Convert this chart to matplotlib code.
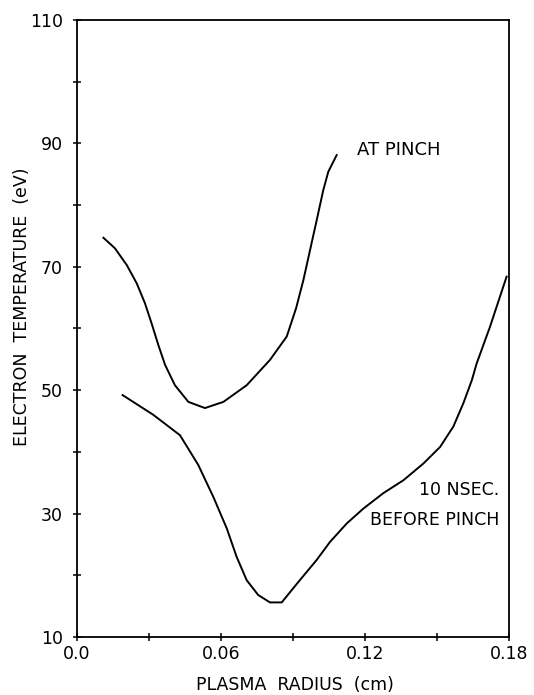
import matplotlib
matplotlib.use("Agg")
import matplotlib.pyplot as plt

# AT PINCH curve (radius in cm, temperature in eV)
pinch_r = [0.011, 0.0158, 0.0207, 0.0249, 0.0283, 0.0311, 0.0339, 0.0367, 0.0408,
           0.0464, 0.0533, 0.061, 0.0707, 0.0804, 0.0874, 0.0913, 0.0943, 0.0971,
           0.0999, 0.1026, 0.1047, 0.1082]
pinch_t = [74.7, 73.0, 70.3, 67.3, 64.1, 60.8, 57.3, 54.1, 50.8,
           48.1, 47.1, 48.1, 50.8, 54.9, 58.7, 63.3, 67.8, 72.7,
           77.6, 82.4, 85.4, 88.1]

# 10 NSEC. BEFORE PINCH curve
before_r = [0.019, 0.0318, 0.0429, 0.0505, 0.0568, 0.0624, 0.0665, 0.0707, 0.0755,
            0.0804, 0.0853, 0.0922, 0.0999, 0.1054, 0.1124, 0.1193, 0.1276, 0.136,
            0.1443, 0.1513, 0.1568, 0.161, 0.1645, 0.1665, 0.1721, 0.179]
before_t = [49.2, 46.0, 42.7, 37.9, 32.7, 27.6, 23.0, 19.2, 16.8,
            15.6, 15.6, 18.9, 22.5, 25.4, 28.4, 30.8, 33.3, 35.4,
            38.1, 40.8, 44.1, 47.9, 51.6, 54.3, 60.3, 68.4]

x_ticks = [0.0, 0.06, 0.12, 0.18]
x_tick_labels = ["0.0", "0.06", "0.12", "0.18"]
y_ticks = [10, 30, 50, 70, 90, 110]

fs = 12.5

fig = plt.figure(figsize=(5.34, 6.95), dpi=100)
ax = fig.add_axes([0.1442, 0.0835, 0.809, 0.8878])

# both curves in plain black
ax.plot(pinch_r, pinch_t, color="black", lw=1.4, solid_joinstyle="round")
ax.plot(before_r, before_t, color="black", lw=1.4, solid_joinstyle="round")

ax.set_xlim(0, 0.18)
ax.set_ylim(10, 110)

ax.set_xticks(x_ticks)
ax.set_xticklabels(x_tick_labels)
ax.set_xticks([0.03, 0.09, 0.15], minor=True)
ax.set_yticks(y_ticks)
ax.set_yticks([20, 40, 60, 80, 100], minor=True)

ax.tick_params(which="both", direction="inout", length=6, width=1.1,
               top=False, right=False, labelsize=fs)
ax.tick_params(axis="y", pad=7)
ax.tick_params(axis="x", pad=3)

for sp in ax.spines.values():
    sp.set_linewidth(1.3)

ax.set_xlabel("PLASMA  RADIUS  (cm)", fontsize=fs, va="baseline")
ax.xaxis.set_label_coords(0.505, -0.086)
ax.set_ylabel("ELECTRON  TEMPERATURE  (eV)", fontsize=fs)
ax.yaxis.set_label_coords(-0.106, 0.535)

ax.text(0.1167, 88.9, "AT PINCH", fontsize=13, ha="left", va="center")
ax.text(0.176, 33.8, "10 NSEC.", fontsize=fs, ha="right", va="center")
ax.text(0.176, 29.0, "BEFORE PINCH", fontsize=fs, ha="right", va="center")

fig.savefig("out.png", dpi=100)
